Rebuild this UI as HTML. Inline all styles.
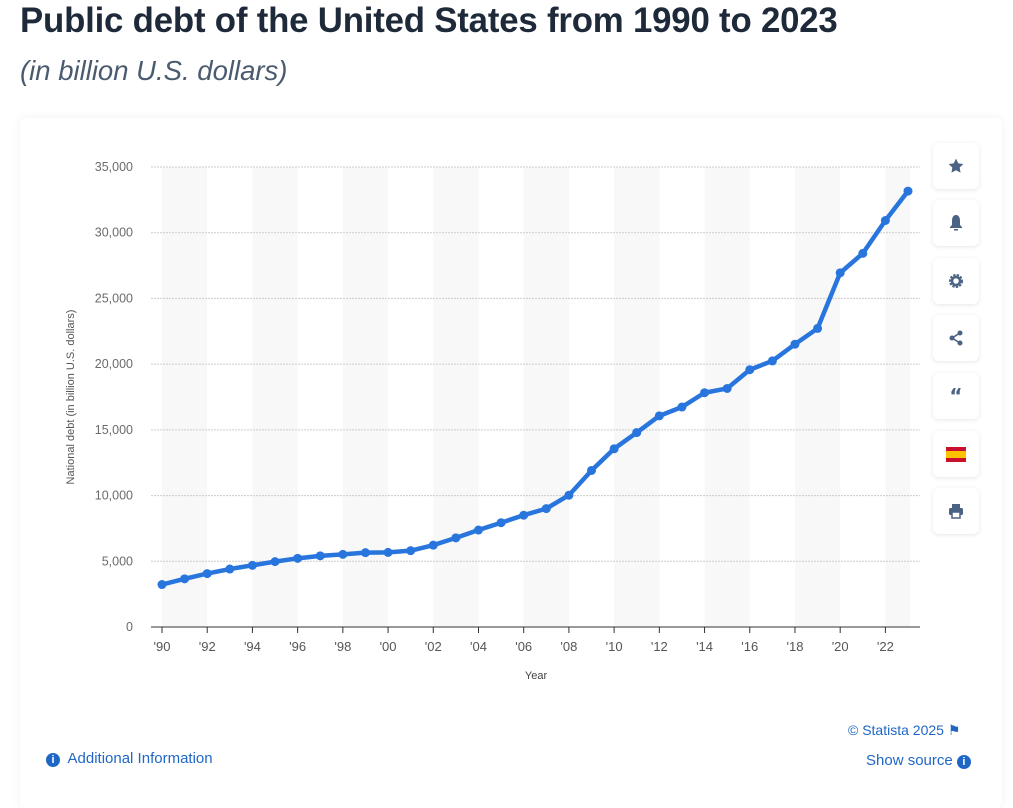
<!DOCTYPE html>
<html><head><meta charset="utf-8">
<style>
html,body{margin:0;padding:0;background:#fff;width:1013px;height:798px;overflow:hidden;font-family:"Liberation Sans",sans-serif;}
.title{position:absolute;left:20px;top:1px;font-size:34.8px;font-weight:bold;color:#1e2a3a;letter-spacing:-0.2px;}
.sub{position:absolute;left:20px;top:55px;font-size:27.5px;font-style:italic;color:#4a5b70;}
.card{position:absolute;left:20px;top:118px;width:982px;height:690px;background:#fff;border-radius:6px;box-shadow:0 0 10px rgba(0,0,0,0.06);}
.btn{position:absolute;left:933px;width:46px;height:46px;background:#fff;border-radius:6px;box-shadow:0 1px 5px rgba(0,0,0,0.1);display:flex;align-items:center;justify-content:center;color:#4a6283;}
.link{position:absolute;color:#1f67c7;font-size:15px;}
</style></head><body>
<div class="title">Public debt of the United States from 1990 to 2023</div>
<div class="sub">(in billion U.S. dollars)</div>
<div class="card"></div>
<svg id="chart" width="1013" height="798" style="position:absolute;left:0;top:0"></svg>
<div class="btn" style="top:143px"><svg width="16" height="16" viewBox="0 0 24 24"><path fill="#4a6283" d="M12 1l3.4 7 7.6 1-5.5 5.3 1.3 7.7L12 18.4 5.2 22l1.3-7.7L1 9l7.6-1z"/></svg></div>
<div class="btn" style="top:200px"><svg width="14" height="16" viewBox="0 0 14 16"><path fill="#4a6283" d="M7 0C4 0 3 3 3 6v4L1 12v1h12v-1l-2-2V6c0-3-1-6-4-6z"/><rect x="5" y="14" width="4" height="1.5" fill="#4a6283"/></svg></div>
<div class="btn" style="top:258px"><svg width="16" height="16" viewBox="0 0 16 16"><circle cx="8" cy="8" r="5.5" fill="none" stroke="#4a6283" stroke-width="3" stroke-dasharray="2.2 1.1"/><circle cx="8" cy="8" r="4" fill="none" stroke="#4a6283" stroke-width="2.5"/></svg></div>
<div class="btn" style="top:315px"><svg width="16" height="16" viewBox="0 0 16 16"><circle cx="12" cy="3" r="2.5" fill="#4a6283"/><circle cx="12" cy="13" r="2.5" fill="#4a6283"/><circle cx="4" cy="8" r="2.5" fill="#4a6283"/><path d="M12 3L4 8l8 5" stroke="#4a6283" stroke-width="1.6" fill="none"/></svg></div>
<div class="btn" style="top:373px;font-weight:bold;font-size:20px;font-family:'DejaVu Sans'">“</div>
<div class="btn" style="top:431px"><svg width="20" height="15"><rect width="20" height="15" fill="#c8102e"/><rect y="4" width="20" height="7" fill="#fcc200"/></svg></div>
<div class="btn" style="top:488px"><svg width="16" height="16" viewBox="0 0 16 16"><rect x="4" y="1" width="8" height="4" fill="#4a6283"/><rect x="1" y="5" width="14" height="7" rx="1.5" fill="#4a6283"/><rect x="4" y="9" width="8" height="6" fill="#fff" stroke="#4a6283" stroke-width="1.5"/></svg></div>
<div class="link" style="left:848px;top:722px;font-size:14px">© Statista 2025 &#9873;</div>
<div class="link" style="left:866px;top:752px">Show source <span style="display:inline-block;width:14px;height:14px;border-radius:7px;background:#1f67c7;color:#fff;font-size:11px;text-align:center;line-height:14px;font-weight:bold">i</span></div>
<div class="link" style="left:46px;top:750px"><span style="display:inline-block;width:14px;height:14px;border-radius:7px;background:#1f67c7;color:#fff;font-size:11px;text-align:center;line-height:14px;font-weight:bold">i</span>&nbsp; Additional Information</div>
<script>
const years=[1990,1991,1992,1993,1994,1995,1996,1997,1998,1999,2000,2001,2002,2003,2004,2005,2006,2007,2008,2009,2010,2011,2012,2013,2014,2015,2016,2017,2018,2019,2020,2021,2022,2023];
const debt=[3233,3665,4064,4411,4692,4974,5225,5413,5526,5656,5674,5807,6228,6783,7379,7933,8507,9008,10025,11910,13562,14790,16066,16738,17824,18151,19573,20245,21516,22719,26945,28428,30929,33167];
const yTicks=[0,5000,10000,15000,20000,25000,30000,35000];
const NS="http://www.w3.org/2000/svg";
const svg=document.getElementById('chart');
const x0=162,x1=908,yb=627,yt=167;
const xs=y=>x0+(y-1990)*(x1-x0)/33;
const ys=v=>yb-v*(yb-yt)/35000;
function mk(t,a,p){const e=document.createElementNS(NS,t);for(const k in a)e.setAttribute(k,a[k]);(p||svg).appendChild(e);return e;}
for(let y=1990;y<=2023;y+=4){
 const w=Math.min(xs(y+2),910)-xs(y);
 const r=mk('rect',{x:xs(y),y:yt,width:w,height:yb-yt,fill:'#f8f8f8'});
 
 
}
yTicks.forEach(v=>{
 if(v>0){const l=mk('line',{x1:151,x2:920,y1:ys(v),y2:ys(v),stroke:'#cccccc','stroke-dasharray':'2 1'});
 
 }
 const t=mk('text',{x:133,y:ys(v)+4,'text-anchor':'end','font-size':12.5,fill:'#6b6b6b','font-family':'Liberation Sans'});
 t.textContent=v.toLocaleString('en-US');
 
 
});
const ax=mk('line',{x1:151,x2:920,y1:yb,y2:yb,stroke:'#333','stroke-width':1});


for(let y=1990;y<=2022;y+=2){
 mk('line',{x1:xs(y),x2:xs(y),y1:yb,y2:yb+6,stroke:'#333'});
 const t=mk('text',{x:xs(y),y:651,'text-anchor':'middle','font-size':13,fill:'#555','font-family':'Liberation Sans'});
 t.textContent="'"+String(y%100).padStart(2,'0');
 
 
}
const xt=mk('text',{x:536,y:679,'text-anchor':'middle','font-size':11,fill:'#444','font-family':'Liberation Sans'});
xt.textContent='Year';


const yl=mk('text',{x:0,y:0,transform:'translate(74,397) rotate(-90)','text-anchor':'middle','font-size':11,fill:'#555','font-family':'Liberation Sans'});
yl.textContent='National debt (in billion U.S. dollars)';


const pl=mk('polyline',{points:years.map((y,i)=>xs(y)+','+ys(debt[i])).join(' '),fill:'none',stroke:'#2876dd','stroke-width':4.5,'stroke-linejoin':'round'});


years.forEach((y,i)=>{
 const c=mk('circle',{cx:xs(y),cy:ys(debt[i]),r:4.5,fill:'#2876dd'});
 
 
});
</script>
</body></html>
